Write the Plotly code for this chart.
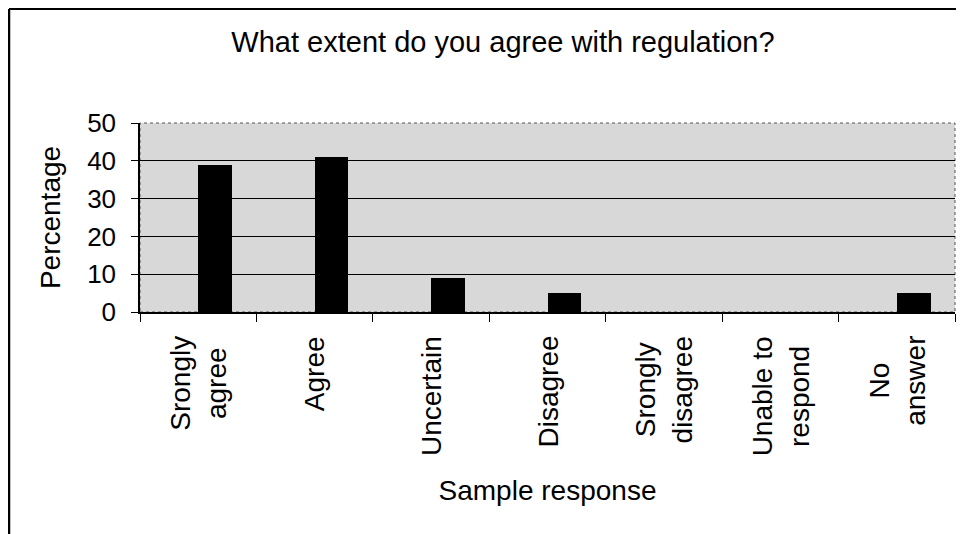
import plotly.graph_objects as go

categories = ["Srongly agree", "Agree", "Uncertain", "Disagree",
              "Srongly disagree", "Unable to respond", "No answer"]
tick_texts = ["Srongly<br>agree", "Agree", "Uncertain", "Disagree",
              "Srongly<br>disagree", "Unable to<br>respond", "No<br>answer"]
percentages = [39, 41, 9, 5, 0, 0, 5]
y_ticks = [0, 10, 20, 30, 40, 50]

# page is rendered with an 8px body margin, so the figure sits at (8, 8)
OFF = 8
W, H = 964 - OFF, 534 - OFF
ML, MR, MT, MB = 140 - OFF, 9, 123 - OFF, 222
PW, PH = W - ML - MR, H - MT - MB

FONT = "Liberation Sans, Arial, sans-serif"

fig = go.Figure()
fig.add_trace(go.Bar(
    x=categories, y=percentages,
    marker=dict(color="black", line=dict(width=0)),
    width=0.29, offset=0,
    showlegend=False,
))

annotations = []
for cat, txt in zip(categories, tick_texts):
    annotations.append(dict(
        x=cat, xref="x", y=0, yref="paper",
        yshift=-22, yanchor="top", xanchor="center",
        text=txt, textangle=-90, align="center", showarrow=False,
        font=dict(family=FONT, size=28, color="black"),
    ))


def page_x(px):
    return (px - OFF - ML) / PW


def page_y(py):
    return (H - MB - (py - OFF)) / PH


fig.update_layout(
    width=W, height=H,
    margin=dict(l=ML, r=MR, t=MT, b=MB, autoexpand=False),
    paper_bgcolor="white",
    plot_bgcolor="#d8d8d8",
    font=dict(family=FONT, color="black"),
    title=dict(
        text="What extent do you agree with regulation?",
        x=(503 - OFF) / W, xanchor="center", xref="container",
        y=1 - (42 - OFF) / H, yanchor="middle", yref="container",
        font=dict(family=FONT, size=29, color="black"),
    ),
    xaxis=dict(
        type="category",
        range=[-0.5, len(categories) - 0.5],
        showticklabels=False,
        ticks="outside", ticklen=8, tickcolor="black", tickwidth=1,
        tickson="boundaries",
        showline=True, linecolor="black", linewidth=1.5,
        showgrid=False, zeroline=False,
        title=dict(text="Sample response", standoff=168,
                   font=dict(family=FONT, size=28, color="black")),
        automargin=False,
    ),
    yaxis=dict(
        range=[0, 50],
        tickvals=y_ticks,
        ticks="outside", ticklen=7, tickcolor="black", tickwidth=1,
        ticklabelstandoff=10,
        tickfont=dict(family=FONT, size=26, color="black"),
        showline=True, linecolor="black", linewidth=1.5,
        showgrid=True, gridcolor="black", gridwidth=1.2,
        zeroline=False,
        title=dict(text="Percentage", standoff=18,
                   font=dict(family=FONT, size=28, color="black")),
        automargin=False,
    ),
    annotations=annotations,
    shapes=[
        dict(type="rect", xref="paper", yref="paper",
             x0=page_x(140), x1=page_x(955),
             y0=page_y(312), y1=page_y(123),
             line=dict(color="#555555", width=1, dash="dot"), layer="below"),
        dict(type="line", xref="paper", yref="paper",
             x0=page_x(9), x1=page_x(9),
             y0=page_y(9), y1=page_y(540),
             line=dict(color="black", width=2.5)),
        dict(type="line", xref="paper", yref="paper",
             x0=page_x(9), x1=page_x(970),
             y0=page_y(9), y1=page_y(9),
             line=dict(color="black", width=2)),
    ],
    bargap=0,
)

fig.write_html("out.html")
